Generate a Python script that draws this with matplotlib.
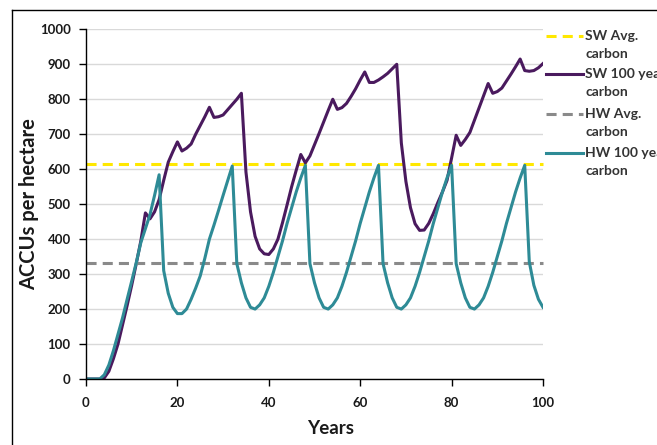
import matplotlib
matplotlib.use("Agg")
import matplotlib.pyplot as plt
from matplotlib.lines import Line2D

years = list(range(0, 101))

sw_100 = [0, 0, 0, 0, 3, 22, 58, 100, 155, 210,
          268, 330, 395, 475, 458, 478, 513, 568, 620, 650,
          678, 652, 660, 672, 700, 725, 750, 777, 748, 750,
          755, 770, 785, 800, 817, 592, 478, 408, 372, 358,
          356, 372, 400, 447, 498, 550, 597, 642, 618, 638,
          670, 702, 735, 768, 800, 771, 776, 788, 808, 830,
          855, 878, 848, 848, 855, 864, 874, 887, 900, 675,
          565, 490, 444, 425, 426, 445, 473, 505, 535, 568,
          632, 697, 668, 685, 705, 740, 775, 810, 845, 817,
          822, 832, 852, 872, 893, 915, 882, 880, 882, 890,
          902]

hw_100 = [0, 0, 0, 0, 12, 40, 81, 128, 175, 228,
          280, 333, 390, 430, 470, 525, 584, 310, 245, 205,
          187, 187, 200, 228, 260, 295, 345, 400, 440, 482,
          525, 567, 609, 330, 275, 232, 205, 200, 212, 232,
          265, 305, 350, 395, 445, 490, 535, 575, 611, 330,
          275, 232, 205, 200, 212, 232, 265, 305, 350, 395,
          445, 490, 535, 575, 611, 330, 275, 232, 205, 200,
          212, 232, 265, 305, 350, 395, 445, 490, 535, 575,
          611, 330, 275, 232, 205, 200, 212, 232, 265, 305,
          350, 395, 445, 490, 535, 575, 611, 335, 268, 228,
          205]

sw_avg = 615
hw_avg = 332

labels = ["SW Avg.\ncarbon", "SW 100 year\ncarbon", "HW Avg.\ncarbon", "HW 100 year\ncarbon"]
x_label = "Years"
y_label = "ACCUs per hectare"

C_SW = "#4a1a5e"
C_HW = "#2e8b96"
C_YEL = "#ffe800"
C_GRAY = "#8a8a8a"
DASH = (0, (3.3, 2.0))

plt.rcParams['font.family'] = ['Lato', 'DejaVu Sans']

W, H = 657, 445
fig = plt.figure(figsize=(W/100, H/100), dpi=100)
ax = fig.add_axes([86/W, 1-379/H, (543-86)/W, (379-29.3)/H])

ax.set_xlim(0, 100)
ax.set_ylim(0, 1000)
ax.set_xticks(range(0, 101, 20))
ax.set_yticks(range(0, 1001, 100))
ax.yaxis.grid(True, color="#d9d9d9", linewidth=1)
ax.set_axisbelow(True)
for s in ["top", "right"]:
    ax.spines[s].set_visible(False)
for s in ["left", "bottom"]:
    ax.spines[s].set_color("black")
    ax.spines[s].set_linewidth(1)
ax.tick_params(direction="out", length=5, width=1, colors="black", labelsize=9.5, pad=6)
ax.tick_params(axis="x", pad=8)
for lab in ax.get_xticklabels() + ax.get_yticklabels():
    lab.set_fontweight("bold")
    lab.set_color("#1a1a1a")

lw = 2.2
ax.axhline(sw_avg, color=C_YEL, lw=lw, linestyle=DASH, clip_on=False)
ax.plot(years, sw_100, color=C_SW, lw=lw)
ax.axhline(hw_avg, color=C_GRAY, lw=lw, linestyle=DASH, clip_on=False)
ax.plot(years, hw_100, color=C_HW, lw=lw)

fig.text(331/W, 1-428/H, x_label, fontsize=13.5, fontweight="bold", color="#1a1a1a",
         ha="center", va="center")
fig.text(29/W, 1-204/H, y_label, fontsize=14.5, fontweight="bold", color="#1a1a1a",
         ha="center", va="center", rotation=90)

# legend drawn manually (handle aligned with first text line, as in the reference)
styles = [(C_YEL, DASH), (C_SW, "-"), (C_GRAY, DASH), (C_HW, "-")]
ys = [36, 74, 114, 153]
for (c, ls), y, lab in zip(styles, ys, labels):
    fy = 1 - y/H
    fig.add_artist(Line2D([546/W, 583/W], [fy, fy], color=c, lw=lw, linestyle=ls,
                          transform=fig.transFigure))
    first, second = lab.split("\n")
    fig.text(585/W, fy, first, fontsize=10, fontweight="bold", color="#333333",
             ha="left", va="center")
    fig.text(585/W, 1 - (y + 18)/H, second, fontsize=10, fontweight="bold", color="#333333",
             ha="left", va="center")

# outer frame
fig.add_artist(Line2D([12/W, 12/W], [0, 1-10/H], color="black", lw=1, transform=fig.transFigure))
fig.add_artist(Line2D([12/W, 1], [1-10/H, 1-10/H], color="black", lw=1, transform=fig.transFigure))

fig.savefig("out.png", dpi=100)
